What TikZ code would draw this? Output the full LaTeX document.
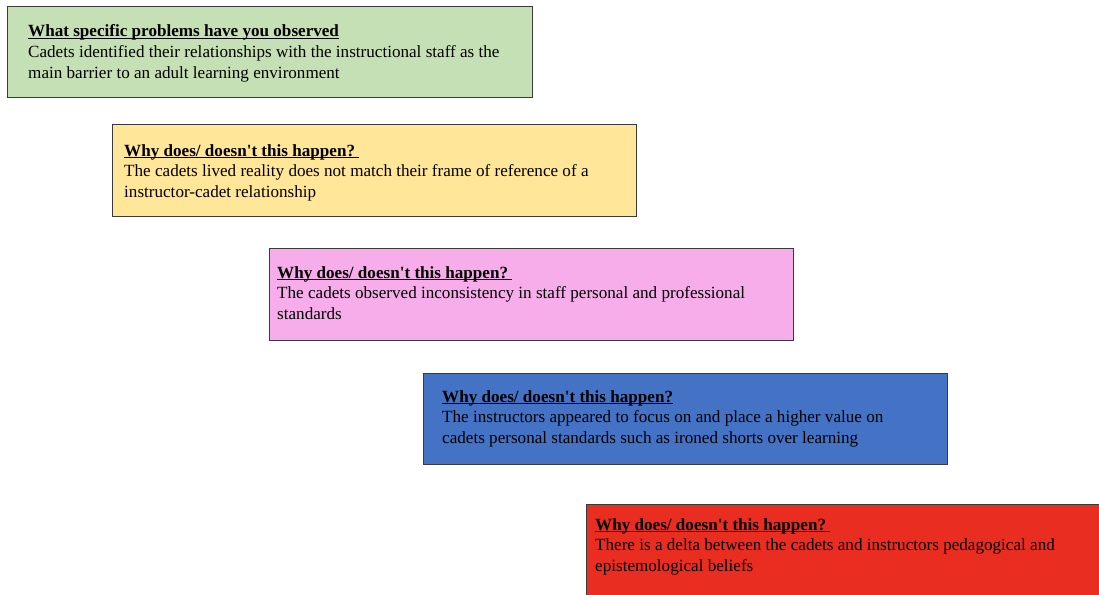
\documentclass[tikz,border=0pt]{standalone}
\usepackage{fontspec}
\setmainfont{Liberation Serif}
\definecolor{cardline}{HTML}{3A3A3A}
\definecolor{cgreen}{HTML}{C5E0B4}
\definecolor{cyellow}{HTML}{FFE699}
\definecolor{cpink}{HTML}{F6ADE9}
\definecolor{cblue}{HTML}{4472C4}
\definecolor{cred}{HTML}{EA2D21}
% underline drawn just under the baseline
\newcommand\ulbar[1]{\setbox0\hbox{#1}\rlap{\rule[-2.2pt]{\wd0}{0.9pt}}\box0}
\newcommand\whyq{Why does/ doesn\textquotesingle t this happen?}
\begin{document}
\begin{tikzpicture}[x=1pt,y=-1pt,
  card/.style={draw=cardline, line width=0.9pt, anchor=north west, inner sep=0pt, rectangle},
  txt/.style={anchor=base west, inner sep=0pt, text=black, font=\fontsize{17.1}{20}\selectfont},
  head/.style={txt, font=\fontsize{17.1}{20}\selectfont\bfseries}]
\useasboundingbox (0,0) rectangle (1099,594);
\clip (0,0) rectangle (1099,594);

% problem statement
\node[card, fill=cgreen, minimum width=525pt, minimum height=91pt] (b1) at (7,6) {};
\node[head] (b1h) at ([shift={(21,31)}]b1.north west) {\ulbar{What specific problems have you observed}};
\node[txt] (b1a) at ([shift={(21,51.5)}]b1.north west) {Cadets identified their relationships with the instructional staff as the};
\node[txt] (b1b) at ([shift={(21,72)}]b1.north west) {main barrier to an adult learning environment};

% first why
\node[card, fill=cyellow, minimum width=524pt, minimum height=92pt] (b2) at (112,124) {};
\node[head] (b2h) at ([shift={(12,32)}]b2.north west) {\ulbar{\whyq\ }};
\node[txt] (b2a) at ([shift={(12,52.5)}]b2.north west) {The cadets lived reality does not match their frame of reference of a};
\node[txt] (b2b) at ([shift={(12,73)}]b2.north west) {instructor-cadet relationship};

% second why
\node[card, fill=cpink, minimum width=524pt, minimum height=92pt] (b3) at (269,248) {};
\node[head] (b3h) at ([shift={(8,30)}]b3.north west) {\ulbar{\whyq\ }};
\node[txt] (b3a) at ([shift={(8,50.5)}]b3.north west) {The cadets observed inconsistency in staff personal and professional};
\node[txt] (b3b) at ([shift={(8,71)}]b3.north west) {standards};

% third why
\node[card, fill=cblue, minimum width=524pt, minimum height=91pt] (b4) at (423,373) {};
\node[head] (b4h) at ([shift={(19,29)}]b4.north west) {\ulbar{\whyq}};
\node[txt] (b4a) at ([shift={(19,49.5)}]b4.north west) {The instructors appeared to focus on and place a higher value on};
\node[txt] (b4b) at ([shift={(19,70)}]b4.north west) {cadets personal standards such as ironed shorts over learning};

% fourth why (runs off the page edge)
\node[card, fill=cred, minimum width=530pt, minimum height=100pt] (b5) at (586,504) {};
\node[head] (b5h) at ([shift={(9,26)}]b5.north west) {\ulbar{\whyq\ }};
\node[txt] (b5a) at ([shift={(9,46.5)}]b5.north west) {There is a delta between the cadets and instructors pedagogical and};
\node[txt] (b5b) at ([shift={(9,67)}]b5.north west) {epistemological beliefs};
\end{tikzpicture}
\end{document}
